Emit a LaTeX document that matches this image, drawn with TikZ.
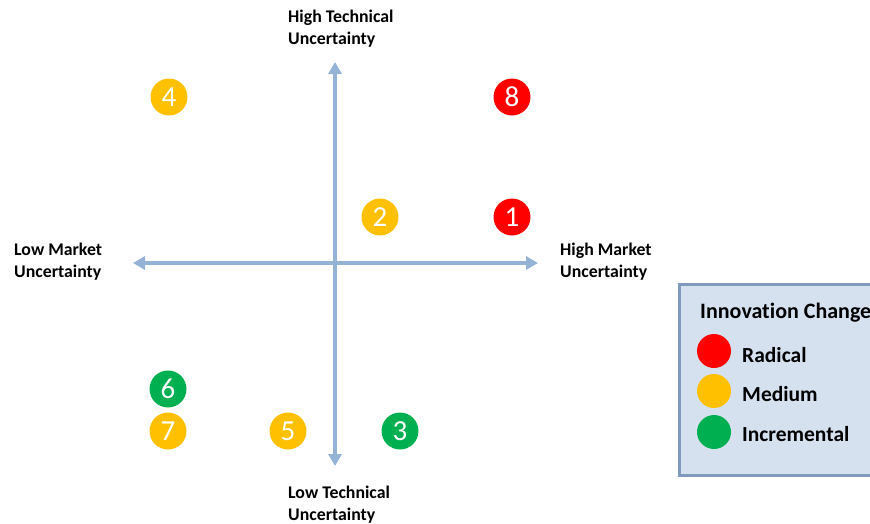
\documentclass[tikz,border=0pt]{standalone}
\usepackage{fontspec}
\setmainfont[Ligatures=NoCommon]{Carlito}
\usetikzlibrary{arrows.meta}
\definecolor{axisblue}{RGB}{149,179,215}
\definecolor{radred}{RGB}{255,0,0}
\definecolor{medorange}{RGB}{255,192,0}
\definecolor{incgreen}{RGB}{0,176,80}
\definecolor{legfill}{RGB}{214,225,240}
\definecolor{legedge}{RGB}{128,153,190}
\begin{document}
\begin{tikzpicture}[x=1pt,y=-1pt,
  axis/.style={draw=axisblue,line width=3.5pt,-{Triangle[length=12pt,width=13pt]}},
  ax label/.style={font=\bfseries\fontsize{17.8}{21.5}\selectfont,align=left,anchor=north west,inner sep=0pt},
  bubble/.style={circle,minimum size=37pt,inner sep=0pt,text=white,font=\fontsize{29}{29}\selectfont},
  red bubble/.style={bubble,fill=radred},
  orange bubble/.style={bubble,fill=medorange},
  green bubble/.style={bubble,fill=incgreen},
  key dot/.style={circle,minimum size=34pt,inner sep=0pt},
  key text/.style={anchor=west,inner sep=0pt,font=\bfseries\fontsize{21.5}{21.5}\selectfont}]
\useasboundingbox (0,0) rectangle (870,523);
\begin{scope}
\clip (0,0) rectangle (870,523);

% axes
\coordinate (c) at (335,263);
\coordinate (top) at (335,62);
\coordinate (bottom) at (335,466);
\coordinate (left) at (133,263);
\coordinate (right) at (538,263);
\draw[axis] (c) -- (top);
\draw[axis] (c) -- (bottom);
\draw[axis] (c) -- (left);
\draw[axis] (c) -- (right);

% axis labels
\node[ax label] (ht) at (288,10) {High Technical\\Uncertainty};
\node[ax label] (lt) at (288,486) {Low Technical\\Uncertainty};
\node[ax label] (lm) at (14,243) {Low Market\\Uncertainty};
\node[ax label] (hm) at (560,243) {High Market\\Uncertainty};

% projects
\node[orange bubble] (p4) at (169,97) {4};
\node[red bubble] (p8) at (512,97) {8};
\node[orange bubble] (p2) at (380,217) {2};
\node[red bubble] (p1) at (512,217) {1};
\node[green bubble] (p6) at (168,389) {6};
\node[orange bubble] (p7) at (168,431) {7};
\node[orange bubble] (p5) at (288,431) {5};
\node[green bubble] (p3) at (400,431) {3};

% legend
\draw[fill=legfill,draw=legedge,line width=3pt] (679,284) rectangle (900,475);
\node[anchor=west,inner sep=0pt,font=\bfseries\fontsize{22}{22}\selectfont] (lt) at (700,313) {Innovation Change};
\node[key dot,fill=radred] (k1) at (714,351) {};
\node[key dot,fill=medorange] (k2) at (714,391) {};
\node[key dot,fill=incgreen] (k3) at (714,432) {};
\node[key text] (t1) at (742,355) {Radical};
\node[key text] (t2) at (742,394) {Medium};
\node[key text] (t3) at (742,434) {Incremental};
\end{scope}
\end{tikzpicture}
\end{document}
